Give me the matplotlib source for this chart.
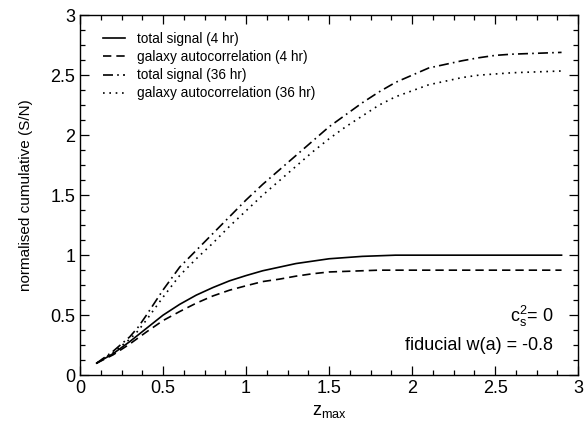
import matplotlib
matplotlib.use('Agg')
import matplotlib.pyplot as plt
from matplotlib.ticker import MultipleLocator

plt.rcParams['font.family'] = ['Liberation Sans', 'DejaVu Sans']
plt.rcParams['mathtext.fontset'] = 'custom'
plt.rcParams['mathtext.rm'] = 'Liberation Sans'
plt.rcParams['mathtext.it'] = 'Liberation Sans'

# redshift grid
z = [0.1, 0.2, 0.3, 0.35, 0.4, 0.5, 0.6, 0.7, 0.8, 0.9, 1.0, 1.1, 1.2, 1.3, 1.4,
     1.5, 1.6, 1.7, 1.8, 1.9, 2.0, 2.1, 2.2, 2.3, 2.4, 2.5, 2.6, 2.7, 2.8, 2.9]

total_4hr = [0.10, 0.18, 0.28, 0.335, 0.39, 0.50, 0.59, 0.667, 0.73, 0.786, 0.83,
             0.87, 0.90, 0.93, 0.95, 0.97, 0.98, 0.99, 0.995, 1.0, 1.0, 1.0, 1.0,
             1.0, 1.0, 1.0, 1.0, 1.0, 1.0, 1.0]
galaxy_4hr = [0.10, 0.17, 0.26, 0.31, 0.36, 0.455, 0.53, 0.60, 0.66, 0.708, 0.745,
              0.78, 0.80, 0.825, 0.845, 0.86, 0.865, 0.87, 0.875, 0.875, 0.875,
              0.875, 0.875, 0.875, 0.875, 0.875, 0.875, 0.875, 0.875, 0.875]
total_36hr = [0.10, 0.20, 0.32, 0.40, 0.50, 0.71, 0.90, 1.04, 1.18, 1.32, 1.46,
              1.59, 1.71, 1.83, 1.95, 2.07, 2.17, 2.27, 2.36, 2.44, 2.50, 2.56,
              2.59, 2.62, 2.645, 2.665, 2.675, 2.68, 2.685, 2.69]
galaxy_36hr = [0.10, 0.19, 0.30, 0.37, 0.46, 0.65, 0.83, 0.97, 1.10, 1.24, 1.37,
               1.50, 1.62, 1.74, 1.86, 1.97, 2.07, 2.16, 2.25, 2.32, 2.37, 2.42,
               2.45, 2.48, 2.50, 2.51, 2.52, 2.525, 2.53, 2.535]

fig = plt.figure(figsize=(5.84, 4.22), dpi=100)
ax = fig.add_axes([0.137, 0.111, 0.853, 0.853])

lw = 1.2
ax.plot(z, total_4hr, color='black', lw=lw, ls='-', label='total signal (4 hr)')
ax.plot(z, galaxy_4hr, color='black', lw=lw, ls=(0, (5, 3)),
        label='galaxy autocorrelation (4 hr)')
ax.plot(z, total_36hr, color='black', lw=lw, ls=(0, (6, 2.5, 1, 2.5)),
        label='total signal (36 hr)')
ax.plot(z, galaxy_36hr, color='black', lw=lw, ls=(0, (1, 2.8)),
        label='galaxy autocorrelation (36 hr)')

ax.set_xlim(0, 3)
ax.set_ylim(0, 3)
ax.xaxis.set_major_locator(MultipleLocator(0.5))
ax.yaxis.set_major_locator(MultipleLocator(0.5))
ax.xaxis.set_minor_locator(MultipleLocator(0.125))
ax.yaxis.set_minor_locator(MultipleLocator(0.125))
ax.xaxis.set_major_formatter(plt.FuncFormatter(lambda v, p: '%g' % v))
ax.yaxis.set_major_formatter(plt.FuncFormatter(lambda v, p: '%g' % v))
ax.tick_params(which='both', direction='in', top=True, right=True, labelsize=13)
ax.tick_params(which='major', length=6.5, width=0.9)
ax.tick_params(which='minor', length=3.5, width=0.9)
for s in ax.spines.values():
    s.set_linewidth(1.0)

ax.set_xlabel(r'$\mathregular{z_{max}}$', fontsize=13, labelpad=4)
ax.set_ylabel('normalised cumulative (S/N)', fontsize=11, labelpad=12)

ax.legend(loc='upper left', frameon=False, fontsize=9.8, handlelength=1.6,
          handletextpad=0.9, labelspacing=0.3, borderaxespad=0.0,
          bbox_to_anchor=(0.035, 0.968))

ax.text(2.85, 0.44, r'$\mathregular{c_s^2}$= 0', ha='right', va='baseline', fontsize=13)
ax.text(2.85, 0.21, 'fiducial w(a) = -0.8', ha='right', va='baseline', fontsize=13)

fig.savefig('out.png', dpi=100)
